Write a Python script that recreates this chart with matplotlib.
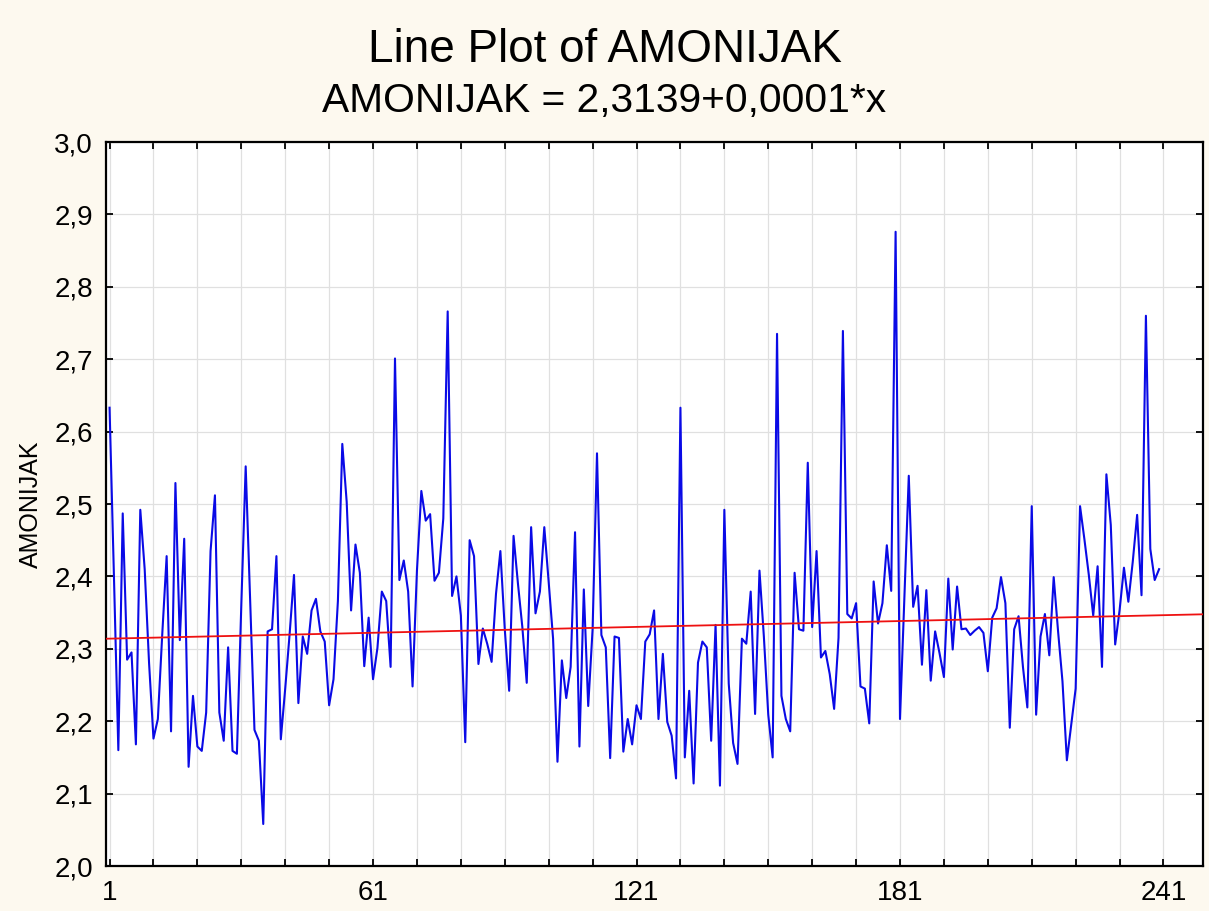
import matplotlib
matplotlib.use("Agg")
import matplotlib.pyplot as plt
import numpy as np
from matplotlib.ticker import FixedLocator, FuncFormatter

plt.rcParams['font.family'] = ['Liberation Sans', 'DejaVu Sans']

title = "Line Plot of AMONIJAK"
var_name = "AMONIJAK"
fit_intercept = 2.3139
fit_slope = 0.000135

amonijak = [
    2.633, 2.40, 2.160, 2.487, 2.285, 2.295, 2.168, 2.492, 2.41, 2.28,
    2.176, 2.203, 2.32, 2.428, 2.186, 2.529, 2.312, 2.452, 2.137, 2.235,
    2.165, 2.159, 2.212, 2.435, 2.512, 2.212, 2.173, 2.302, 2.159, 2.155,
    2.36, 2.552, 2.37, 2.188, 2.173, 2.058, 2.324, 2.327, 2.428, 2.175,
    2.245, 2.32, 2.402, 2.225, 2.317, 2.293, 2.353, 2.369, 2.324, 2.310,
    2.222, 2.258, 2.366, 2.583, 2.503, 2.353, 2.444, 2.405, 2.276, 2.343,
    2.258, 2.301, 2.379, 2.366, 2.275, 2.701, 2.395, 2.422, 2.379, 2.248,
    2.408, 2.518, 2.477, 2.486, 2.394, 2.405, 2.480, 2.766, 2.373, 2.400,
    2.346, 2.171, 2.450, 2.428, 2.279, 2.328, 2.307, 2.282, 2.376, 2.435,
    2.327, 2.242, 2.456, 2.39, 2.33, 2.253, 2.468, 2.349, 2.379, 2.468,
    2.392, 2.314, 2.144, 2.284, 2.232, 2.275, 2.461, 2.165, 2.382, 2.221,
    2.327, 2.570, 2.319, 2.302, 2.149, 2.317, 2.315, 2.158, 2.203, 2.168,
    2.222, 2.203, 2.310, 2.320, 2.353, 2.203, 2.293, 2.199, 2.180, 2.121,
    2.633, 2.150, 2.242, 2.114, 2.281, 2.310, 2.302, 2.173, 2.333, 2.111,
    2.492, 2.252, 2.170, 2.141, 2.314, 2.307, 2.379, 2.210, 2.408, 2.317,
    2.209, 2.150, 2.735, 2.235, 2.203, 2.186, 2.405, 2.327, 2.325, 2.557,
    2.330, 2.435, 2.288, 2.297, 2.265, 2.217, 2.315, 2.739, 2.348, 2.342,
    2.363, 2.248, 2.245, 2.197, 2.393, 2.335, 2.363, 2.443, 2.380, 2.876,
    2.203, 2.37, 2.539, 2.358, 2.387, 2.278, 2.381, 2.256, 2.324, 2.294,
    2.261, 2.397, 2.299, 2.386, 2.327, 2.328, 2.319, 2.325, 2.330, 2.322,
    2.269, 2.343, 2.356, 2.399, 2.363, 2.191, 2.327, 2.345, 2.275, 2.219,
    2.497, 2.209, 2.317, 2.348, 2.291, 2.399, 2.324, 2.255, 2.146, 2.196,
    2.245, 2.497, 2.451, 2.402, 2.346, 2.414, 2.275, 2.541, 2.471, 2.306,
    2.353, 2.412, 2.365, 2.42, 2.485, 2.374, 2.760, 2.438, 2.395, 2.410,
]
x_major = [1, 61, 121, 181, 241]
x_minor = list(range(1, 251, 10))
y_ticks = [2.0, 2.1, 2.2, 2.3, 2.4, 2.5, 2.6, 2.7, 2.8, 2.9, 3.0]

case = np.arange(1, len(amonijak) + 1)

fig = plt.figure(figsize=(12.09, 9.11), dpi=100, facecolor='#FDF9EF')
ax = fig.add_axes([105.6 / 1209, 1 - 866 / 911, (1203 - 105.6) / 1209, (866 - 142) / 911])
ax.set_facecolor('white')

xlim = (0.1, 250)
ax.set_xlim(*xlim)
ax.set_ylim(2.0, 3.0)

ax.xaxis.set_major_locator(FixedLocator(x_major))
ax.xaxis.set_minor_locator(FixedLocator([v for v in x_minor if v not in x_major]))
ax.yaxis.set_major_locator(FixedLocator(y_ticks))
ax.xaxis.set_major_formatter(FuncFormatter(lambda v, p: f"{int(round(v))}"))
ax.yaxis.set_major_formatter(FuncFormatter(lambda v, p: f"{v:.1f}".replace('.', ',')))

ax.grid(True, which='both', color='#e0e0e0', linewidth=0.9, zorder=0)
ax.set_axisbelow(True)

ax.plot(case, amonijak, color='#0a0ae6', linewidth=1.5, zorder=3)
xf = np.array(xlim)
ax.plot(xf, fit_intercept + fit_slope * xf, color='#ee1111', linewidth=1.3, zorder=4)

for s in ax.spines.values():
    s.set_linewidth(1.6)
    s.set_color('black')

ax.tick_params(which='both', direction='in', top=True, right=True, length=5, width=1.3,
               labelsize=20, color='black')
ax.tick_params(axis='x', pad=10)
ax.tick_params(axis='y', pad=9)

ax.set_ylabel(var_name, fontsize=18, labelpad=8)

slope_txt = f"{fit_slope:.4f}".replace('.', ',')
icpt_txt = f"{fit_intercept:.4f}".replace('.', ',')
fig.text(0.5, 1 - 50 / 911, title, ha='center', va='center', fontsize=33)
fig.text(0.5, 1 - 101 / 911, f"{var_name} = {icpt_txt}+{slope_txt}*x", ha='center', va='center', fontsize=29.3)

fig.savefig('out.png', dpi=100, facecolor=fig.get_facecolor())
